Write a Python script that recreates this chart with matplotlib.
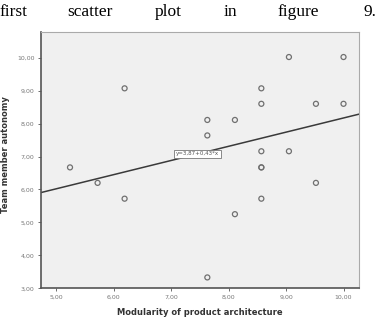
import numpy as np
import matplotlib.pyplot as plt

# データ
modularity = [5.24, 5.72, 6.19, 6.19, 7.63, 7.63, 7.63, 8.11, 8.11,
              8.57, 8.57, 8.57, 8.57, 8.57, 8.57, 9.05, 9.05, 9.52, 9.52, 10.0, 10.0]
autonomy = [6.67, 6.20, 9.07, 5.72, 8.11, 7.64, 3.33, 8.11, 5.25,
            9.07, 8.60, 7.16, 6.67, 5.72, 6.67, 10.02, 7.16, 8.60, 6.20, 10.02, 8.60]
intercept = 3.87
slope = 0.43
eq_label = 'y=3,87+0,43*x'
xticks = [5, 6, 7, 8, 9, 10]
yticks = [3, 4, 5, 6, 7, 8, 9, 10]

fig = plt.figure(figsize=(3.79, 3.18), dpi=100)

# 上部の本文テキスト（両端揃え）
words = ['first', 'scatter', 'plot', 'in', 'figure', '9.']
word_x = [0, 67, 155, 224, 278, 364]
for w, px in zip(words, word_x):
    fig.text(px / 379, 1 - 12 / 318, w, fontsize=12.5, family='Liberation Serif',
             va='center', ha='left')

ax = fig.add_axes([0.1074, 0.0934, 0.8399, 0.806])
ax.set_facecolor('#f0f0f0')

ax.scatter(modularity, autonomy, s=13, facecolors='none', edgecolors='#707070',
           linewidths=0.9, zorder=3)

xlim = (4.73, 10.27)
xs = np.array(xlim)
ax.plot(xs, intercept + slope * xs, color='#3a3a3a', lw=1.1, zorder=2)

lx = 7.46
ax.text(lx, intercept + slope * lx, eq_label, fontsize=4, ha='center', va='center',
        color='#555555', zorder=4,
        bbox=dict(boxstyle='square,pad=0.3', fc='white', ec='#777777', lw=0.6))

ax.set_xlim(*xlim)
ax.set_ylim(3, 10.78)
ax.set_xticks(xticks)
ax.set_yticks(yticks)
ax.set_xticklabels([f'{v},00' for v in xticks])
ax.set_yticklabels([f'{v},00' for v in yticks])
ax.tick_params(labelsize=4.5, labelcolor='#777777', length=2.5, width=0.6,
               color='#555555', pad=2)

for side in ['top', 'right']:
    ax.spines[side].set_color('#aaaaaa')
    ax.spines[side].set_linewidth(0.8)
for side in ['left', 'bottom']:
    ax.spines[side].set_color('#555555')
    ax.spines[side].set_linewidth(1.2)

ax.set_xlabel('Modularity of product architecture', fontsize=6, fontweight='bold',
              color='#333333', labelpad=6)
ax.set_ylabel('Team member autonomy', fontsize=6, fontweight='bold',
              color='#333333')
ax.yaxis.set_label_coords(-0.095, 0.52)

fig.savefig('out.png', dpi=100)
